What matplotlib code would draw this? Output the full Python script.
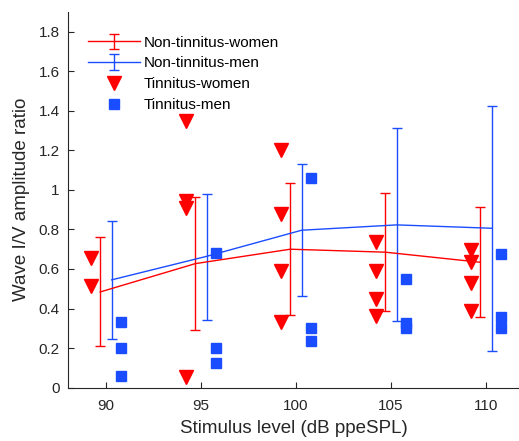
import matplotlib.pyplot as plt

plt.rcParams['font.family'] = ['Liberation Sans', 'DejaVu Sans']

# Stimulus levels (dB ppeSPL)
levels = [90, 95, 100, 105, 110]

# Non-tinnitus groups: mean and error bar limits
nt_women_mean = [0.484, 0.627, 0.700, 0.685, 0.634]
nt_women_upper = [0.760, 0.963, 1.035, 0.984, 0.911]
nt_women_lower = [0.210, 0.289, 0.365, 0.390, 0.355]

nt_men_mean = [0.545, 0.664, 0.796, 0.823, 0.806]
nt_men_upper = [0.844, 0.981, 1.129, 1.313, 1.423]
nt_men_lower = [0.247, 0.340, 0.461, 0.335, 0.186]

# Tinnitus individuals
t_women_level = [90, 90, 95, 95, 95, 95, 100, 100, 100, 100,
                 105, 105, 105, 105, 110, 110, 110, 110]
t_women_ratio = [0.656, 0.512, 1.349, 0.943, 0.910, 0.056, 1.200, 0.876, 0.588, 0.330,
                 0.735, 0.588, 0.448, 0.360, 0.695, 0.634, 0.529, 0.390]

t_men_level = [90, 90, 90, 95, 95, 95, 100, 100, 100,
               105, 105, 105, 110, 110, 110]
t_men_ratio = [0.332, 0.201, 0.061, 0.681, 0.200, 0.127, 1.062, 0.304, 0.238,
               0.551, 0.326, 0.301, 0.678, 0.358, 0.303]

red = '#ff0000'
blue = '#1a4dff'
txt = '#262626'

fig = plt.figure(figsize=(5.19, 4.41), dpi=100)
ax = fig.add_axes([0.131, 0.121, 0.869, 0.852])

xw = [x - 0.3 for x in levels]
xm = [x + 0.3 for x in levels]
err_w = [[m - l for m, l in zip(nt_women_mean, nt_women_lower)],
         [u - m for m, u in zip(nt_women_mean, nt_women_upper)]]
err_m = [[m - l for m, l in zip(nt_men_mean, nt_men_lower)],
         [u - m for m, u in zip(nt_men_mean, nt_men_upper)]]

h1 = ax.errorbar(xw, nt_women_mean, yerr=err_w, color=red, lw=1, capsize=3.6,
                 capthick=1, elinewidth=1, label='Non-tinnitus-women')
h2 = ax.errorbar(xm, nt_men_mean, yerr=err_m, color=blue, lw=1, capsize=3.6,
                 capthick=1, elinewidth=1, label='Non-tinnitus-men')
h3, = ax.plot([x - 0.8 for x in t_women_level], t_women_ratio, 'v', color=red,
              ms=10, mec=red, ls='none', label='Tinnitus-women')
h4, = ax.plot([x + 0.8 for x in t_men_level], t_men_ratio, 's', color=blue,
              ms=6.5, mec=blue, ls='none', label='Tinnitus-men')

ax.set_xlim(88, 111.74)
ax.set_ylim(0, 1.9)
ax.set_xticks(levels)
ax.set_yticks([0, 0.2, 0.4, 0.6, 0.8, 1, 1.2, 1.4, 1.6, 1.8])
ax.set_yticklabels(['0', '0.2', '0.4', '0.6', '0.8', '1', '1.2', '1.4', '1.6', '1.8'])
ax.tick_params(direction='in', labelsize=11, colors=txt, length=4)
ax.tick_params(axis='x', pad=8)
ax.tick_params(axis='y', pad=6)
for s in ['top', 'right']:
    ax.spines[s].set_visible(False)
for s in ['left', 'bottom']:
    ax.spines[s].set_color(txt)

ax.set_xlabel('Stimulus level (dB ppeSPL)', fontsize=13.5, color=txt, labelpad=5)
ax.set_ylabel('Wave I/V amplitude ratio', fontsize=13.5, color=txt, labelpad=6)

ax.legend(handles=[h1, h2, h3, h4], loc='upper left', frameon=False, fontsize=11,
          handlelength=3.4, handletextpad=0.25, labelspacing=0.45,
          borderpad=0, borderaxespad=0, bbox_to_anchor=(0.044, 0.937))

fig.savefig('out.png', dpi=100)
